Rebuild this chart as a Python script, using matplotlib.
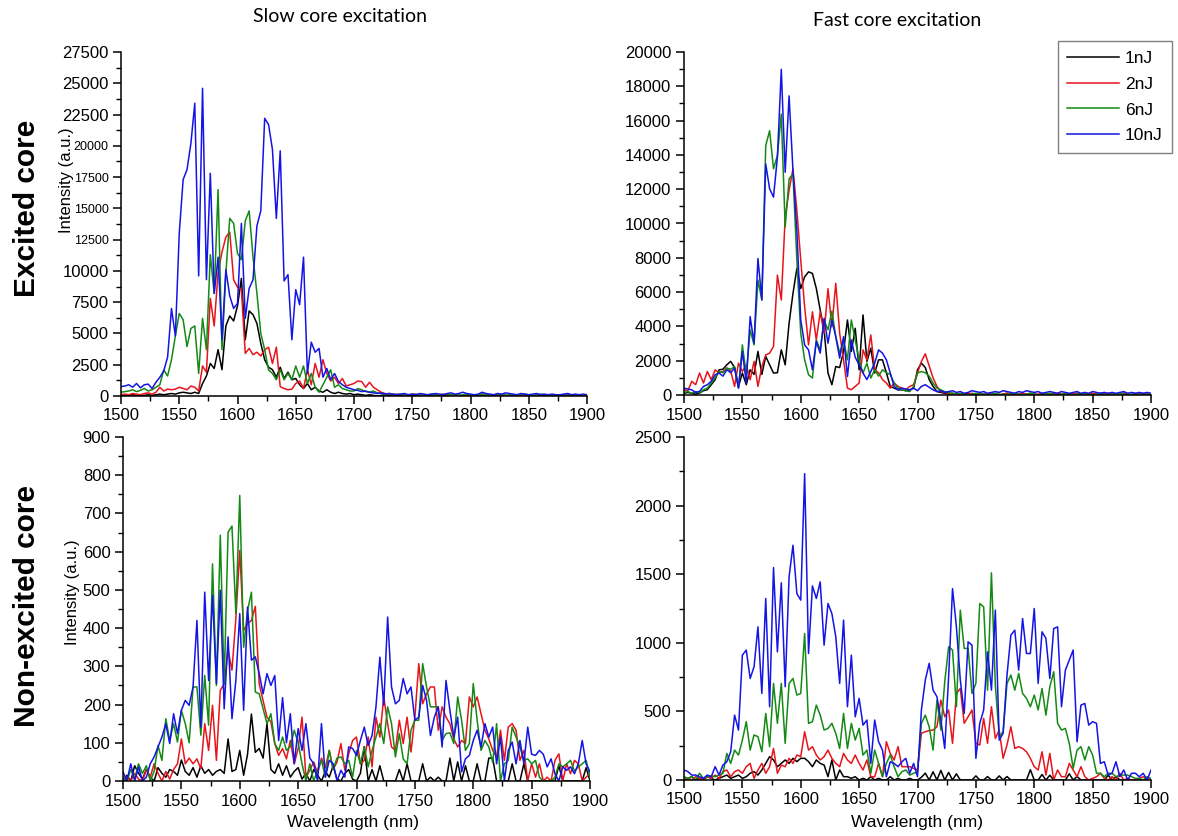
import numpy as np
import matplotlib
matplotlib.use("Agg")
import matplotlib.pyplot as plt
from matplotlib.ticker import MultipleLocator

plt.rcParams['font.family'] = ['Liberation Sans', 'DejaVu Sans']

# ---------------- spectra (intensity, a.u.), sampled evenly over 1500-1900 nm ----------------
# Slow core excitation, excited core
slow_exc_1nJ = [50, 0, 50, 100, 50, 0, 50, 100, 50, 100,
                150, 100, 150, 200, 150, 250, 300, 250, 200, 300,
                200, 1000, 1600, 2600, 2200, 3700, 2100, 5600, 6400, 6000,
                7200, 9400, 4500, 6800, 6500, 5800, 4200, 2900, 2300, 2100,
                1500, 2300, 1400, 1900, 1300, 1400, 900, 600, 1000, 500,
                700, 400, 300, 500, 300, 200, 300, 200, 150, 200,
                100, 150, 100, 50, 100, 50, 0, 50, 100, 50,
                0, 50, 50, 0, 100, 50, 0, 50, 0, 50,
                100, 50, 0, 50, 50, 0, 100, 50, 0, 50,
                0, 50, 100, 50, 0, 50, 50, 0, 100, 50,
                0, 50, 0, 50, 100, 50, 0, 50, 50, 0,
                50, 100, 50, 0, 50, 0, 50, 100, 50, 0, 50]
slow_exc_2nJ = [100, 150, 100, 200, 150, 100, 200, 250, 150, 300,
                700, 400, 550, 500, 550, 700, 600, 500, 800, 700,
                400, 2400, 1900, 7800, 5600, 9900, 11500, 12700, 13100, 9300,
                8700, 8500, 3400, 3800, 3300, 3500, 3200, 3700, 3900, 2600,
                3900, 750, 600, 500, 550, 1000, 1200, 600, 2100, 900,
                2600, 1500, 2900, 1800, 1200, 1500, 1000, 1400, 800, 900,
                1000, 1200, 1150, 700, 1100, 700, 500, 300, 200, 150,
                100, 150, 100, 50, 100, 150, 100, 50, 100, 50,
                100, 50, 100, 150, 100, 50, 100, 50, 0, 50,
                100, 50, 100, 150, 100, 50, 100, 50, 100, 50,
                0, 50, 100, 50, 100, 50, 0, 50, 100, 50,
                100, 50, 0, 50, 100, 50, 50, 100, 50, 0, 50]
slow_exc_6nJ = [300, 350, 400, 500, 350, 450, 600, 400, 500, 700,
                900, 2080, 1600, 2900, 4800, 6600, 6100, 3950, 5400, 5600,
                1800, 6200, 3700, 11300, 8200, 16500, 3700, 9800, 14200, 13800,
                11400, 10900, 14000, 14800, 11100, 8200, 5000, 3700, 2080, 1800,
                1300, 2100, 1300, 1800, 1300, 2400, 1500, 2400, 1000, 1800,
                700, 300, 900, 1500, 2100, 700, 900, 600, 500, 400,
                400, 600, 500, 350, 300, 400, 250, 200, 150, 200,
                150, 100, 150, 100, 50, 100, 150, 100, 50, 100,
                150, 100, 50, 100, 150, 100, 100, 50, 100, 150,
                100, 50, 100, 150, 100, 50, 100, 150, 100, 50,
                100, 100, 50, 100, 150, 100, 50, 100, 150, 100,
                50, 100, 100, 50, 100, 150, 100, 50, 100, 50, 100]
slow_exc_10nJ = [750, 800, 900, 700, 1000, 650, 900, 950, 600, 1100,
                 1500, 2000, 3100, 7000, 4800, 13000, 17300, 18100, 20200, 23400,
                 9600, 24600, 9300, 17800, 8200, 11100, 4500, 10100, 8000, 7000,
                 7400, 13800, 6200, 8600, 9300, 13600, 14800, 22200, 21700, 19700,
                 14200, 19600, 9200, 9700, 4500, 8500, 7300, 11100, 1800, 4300,
                 3500, 3800, 1500, 2200, 1300, 1800, 1150, 900, 700, 600,
                 500, 450, 350, 400, 300, 250, 200, 250, 150, 200,
                 150, 100, 150, 200, 100, 150, 100, 200, 150, 100,
                 150, 200, 150, 100, 200, 250, 150, 200, 300, 200,
                 150, 100, 150, 300, 200, 150, 100, 200, 150, 250,
                 200, 150, 100, 200, 150, 100, 150, 200, 100, 150,
                 100, 150, 100, 100, 150, 200, 100, 150, 100, 150, 100]

# Fast core excitation, excited core
fast_exc_1nJ = [100, 150, 100, 50, 115, 250, 310, 600, 890, 1470,
                1500, 1760, 1960, 1600, 500, 1280, 600, 1470, 1200, 2540,
                1200, 2250, 1760, 1280, 1300, 2630, 1760, 4180, 5920, 7380,
                6210, 6890, 7180, 7090, 6210, 4950, 3800, 1280, 600, 1660,
                1600, 2540, 4375, 2540, 3890, 1470, 4670, 1960, 2730, 1280,
                2050, 2050, 1300, 500, 400, 300, 300, 250, 300, 400,
                1470, 1860, 1600, 900, 500, 200, 150, 100, 50, 100,
                50, 0, 50, 100, 50, 0, 50, 50, 0, 100,
                50, 0, 50, 100, 50, 0, 50, 0, 50, 100,
                50, 0, 50, 50, 0, 100, 50, 0, 50, 0,
                50, 100, 50, 0, 50, 50, 0, 100, 50, 0,
                50, 0, 50, 100, 50, 0, 50, 50, 0, 50, 0]
fast_exc_2nJ = [300, 250, 800, 600, 1280, 700, 1370, 890, 1470, 1280,
                1370, 1570, 1400, 500, 1860, 1370, 1760, 890, 1960, 500,
                1660, 2340, 2440, 2830, 6990, 5540, 10380, 11930, 13180, 10770,
                7860, 5150, 2920, 4850, 3210, 4850, 3600, 6200, 3980, 6510,
                3600, 2050, 400, 310, 500, 700, 2630, 2050, 3500, 1470,
                1300, 900, 700, 400, 700, 500, 400, 300, 500, 600,
                1280, 1960, 2400, 1700, 1000, 500, 200, 150, 100, 50,
                100, 50, 0, 50, 100, 50, 0, 50, 50, 100,
                50, 0, 50, 100, 50, 0, 50, 100, 50, 0,
                50, 50, 100, 50, 0, 50, 100, 50, 0, 50,
                100, 50, 0, 50, 50, 100, 50, 0, 50, 100,
                50, 0, 50, 100, 50, 0, 50, 50, 100, 50, 0]
fast_exc_6nJ = [150, 200, 100, 200, 115, 300, 400, 700, 1000, 1370,
                1300, 1570, 1500, 1660, 400, 2920, 1180, 3800, 2920, 6700,
                5540, 14540, 15410, 13190, 13960, 16380, 9800, 12600, 12900, 7860,
                3600, 2050, 1180, 990, 3210, 2630, 4375, 3800, 4890, 3400,
                2440, 3210, 2050, 4375, 3200, 2050, 1280, 1860, 990, 1470,
                1100, 1470, 1300, 1200, 700, 400, 300, 250, 200, 500,
                1280, 1370, 1300, 1100, 700, 400, 300, 200, 150, 100,
                50, 100, 50, 0, 50, 100, 50, 50, 0, 50,
                100, 50, 0, 50, 50, 100, 50, 0, 50, 100,
                50, 0, 50, 50, 100, 50, 0, 50, 100, 50,
                0, 50, 50, 100, 50, 0, 50, 100, 50, 0,
                50, 50, 100, 50, 0, 50, 100, 50, 0, 50, 50]
fast_exc_10nJ = [400, 350, 300, 150, 210, 500, 600, 800, 1180, 1280,
                 1100, 1470, 1300, 1570, 400, 2540, 700, 4570, 3020, 7960,
                 5540, 13470, 12020, 11540, 13860, 18990, 12990, 17440, 13090, 9600,
                 4375, 2920, 2630, 1470, 3120, 2440, 4470, 3020, 4375, 3400,
                 2150, 3400, 1080, 3210, 2200, 1760, 1280, 900, 1370, 1860,
                 2630, 2440, 2050, 1280, 500, 310, 400, 350, 300, 400,
                 250, 500, 600, 450, 300, 200, 250, 150, 200, 250,
                 150, 200, 100, 150, 250, 200, 150, 200, 100, 150,
                 200, 150, 250, 200, 150, 100, 200, 150, 250, 200,
                 150, 200, 100, 150, 200, 150, 100, 200, 150, 100,
                 150, 200, 100, 150, 100, 200, 150, 100, 150, 100,
                 150, 100, 150, 200, 100, 150, 100, 150, 100, 150, 100]

# Slow core excitation, non-excited core
slow_non_1nJ = [0, 15, 0, 40, 20, 5, 30, 10, 0, 35,
                20, 10, 30, 25, 15, 55, 25, 15, 35, 10,
                40, 20, 30, 15, 25, 30, 20, 110, 25, 30,
                80, 15, 70, 175, 75, 85, 60, 150, 30, 20,
                45, 15, 40, 10, 25, 35, 5, 20, 0, 30,
                15, 0, 25, 10, 40, 5, 0, 20, 30, 5,
                0, 20, 90, 0, 30, 0, 40, 0, 0, 0,
                0, 30, 0, 45, 0, 0, 0, 45, 0, 10,
                0, 10, 0, 0, 60, 0, 50, 0, 40, 0,
                0, 45, 0, 0, 60, 60, 0, 0, 0, 0,
                45, 0, 0, 45, 0, 0, 0, 0, 0, 0,
                0, 0, 40, 0, 0, 0, 0, 0, 0, 35, 0]
slow_non_2nJ = [0, 10, 0, 20, 5, 0, 30, 10, 45, 20,
                0, 25, 5, 30, 45, 110, 45, 60, 45, 58,
                32, 150, 80, 198, 54, 237, 254, 342, 290, 425,
                603, 394, 412, 420, 457, 254, 210, 167, 155, 98,
                67, 85, 58, 106, 45, 85, 167, 10, 28, 50,
                20, 60, 35, 80, 30, 50,
                98, 28, 71, 106, 115, 45, 54, 115, 37, 167,
                115, 220, 150, 89, 80, 159, 98, 167, 76, 167,
                307, 202, 228, 246, 246, 133, 194, 167, 150, 110,
                89, 106, 98, 220, 194, 220, 176, 133, 110, 80,
                63, 133, 54, 141, 150, 133, 54, 80, 0, 45,
                10, 45, 0, 10, 0, 54, 71, 0, 45, 19,
                54, 45, 0, 10, 20]
slow_non_6nJ = [10, 0, 30, 5, 45, 20, 40, 0, 25, 93,
                54, 163, 106, 150, 102, 185, 150, 100, 246, 246,
                120, 276, 146, 568, 250, 643, 255, 651, 667, 438,
                747, 350, 446, 494, 233, 228, 189, 150, 176, 98,
                80, 115, 80, 90, 133, 100, 45, 0, 45, 0,
                28, 54, 10, 80, 30, 60,
                63, 45, 54, 10, 80, 45, 89, 37, 80, 115,
                150, 98, 194, 150, 63, 124, 58, 45, 133, 159,
                159, 307, 246, 194, 194, 194, 106, 124, 126, 98,
                220, 159, 80, 98, 255, 159, 80, 106, 89, 48,
                150, 0, 45, 54, 141, 115, 89, 54, 58, 45,
                54, 10, 0, 0, 0, 10, 45, 37, 45, 54,
                26, 37, 45, 54, 10]
slow_non_10nJ = [24, 0, 45, 0, 37, 0, 10, 45, 63, 89,
                 115, 150, 98, 176, 124, 185, 211, 198, 246, 420,
                 141, 494, 263, 486, 255, 499, 189, 377, 163, 263,
                 438, 185, 455, 316, 325, 281, 228, 281, 250, 276,
                 106, 218, 100, 176, 45, 137, 80, 150, 60, 45,
                 0, 150, 10, 54, 45, 0,
                 28, 10, 89, 85, 67, 106, 141, 93, 119, 194,
                 324, 198, 429, 246, 202, 211, 268, 228, 246, 159,
                 167, 250, 211, 119, 167, 194, 89, 263, 185, 115,
                 167, 24, 58, 67, 106, 133, 89, 150, 115, 141,
                 45, 115, 0, 80, 102, 45, 106, 45, 141, 70,
                 67, 80, 70, 37, 58, 19, 0, 37, 28, 37,
                 19, 45, 106, 45, 24]

# Fast core excitation, non-excited core
fast_non_1nJ = [0, 12, 24, 0, 12, 0, 24, 12, 0, 12,
                24, 36, 12, 24, 36, 12, 24, 49, 61, 36,
                73, 121, 170, 146, 97, 121, 146, 121, 158, 134,
                158, 158, 134, 97, 146, 121, 109, 24, 146, 0,
                73, 24, 24, 12, 24, 0, 12, 0, 24, 0,
                12, 0, 0, 24, 0, 12, 0, 0, 12, 0,
                0, 20, 50, 0, 60, 0, 70, 0, 55, 0,
                45, 0, 0, 0, 0, 30, 0, 0, 25, 0,
                0, 30, 0, 25, 0, 0, 0, 0, 0, 75,
                0, 0, 40, 0, 35, 0, 0, 0, 0, 45,
                0, 25, 0, 0, 0, 0, 0, 0, 0, 35,
                0, 25, 0, 0, 0, 0, 0, 0, 0, 0, 0]
fast_non_2nJ = [0, 12, 0, 24, 12, 0, 24, 12, 36, 12,
                61, 73, 24, 61, 73, 49, 97, 121, 12, 73,
                121, 49, 97, 230, 49, 109, 97, 158, 121, 182,
                170, 352, 218, 243, 182, 146, 170, 218, 158, 121,
                97, 194, 146, 121, 182, 121, 73, 146, 24, 24,
                121, 24, 279, 194, 146, 243, 97, 97, 97, 85,
                73, 340, 352, 360, 364, 388, 582, 461, 510, 267,
                631, 667, 413, 461, 510, 267, 255, 449, 267, 534,
                303, 364, 158, 255, 388, 230, 243, 230, 206, 158,
                97, 73, 206, 36, 194, 0, 73, 24, 24, 121,
                73, 24, 97, 24, 0, 12, 24, 49, 12, 0,
                24, 0, 49, 0, 12, 0, 0, 12, 24, 12, 0]
fast_non_6nJ = [24, 12, 24, 0, 49, 12, 24, 30, 24, 36,
                49, 194, 121, 218, 182, 291, 425, 218, 328, 316,
                206, 485, 243, 704, 413, 704, 267, 704, 740, 619,
                631, 1068, 413, 425, 546, 473, 364, 376, 413, 340,
                230, 485, 230, 413, 291, 376, 182, 218, 49, 218,
                121, 24, 121, 182, 97, 24, 61, 73, 36, 49,
                60, 413, 473, 388, 218, 582, 364, 716, 971, 947,
                534, 1238, 959, 959, 631, 704, 1286, 1262, 655, 1510,
                692, 316, 352, 704, 765, 655, 777, 631, 595, 534,
                619, 510, 667, 473, 680, 789, 413, 364, 376, 267,
                85, 218, 243, 146, 243, 182, 49, 49, 24, 49,
                49, 24, 36, 36, 36, 24, 12, 12, 0, 24, 12]
fast_non_10nJ = [73, 61, 36, 36, 24, 12, 36, 24, 97, 36,
                 109, 133, 206, 473, 364, 910, 947, 740, 825, 1116,
                 631, 1323, 534, 1548, 934, 1437, 680, 1480, 1711, 1359,
                 1311, 2233, 922, 1415, 1323, 1444, 983, 1286, 1213, 1044,
                 704, 1165, 534, 910, 461, 595, 400, 437, 121, 437,
                 279, 218, 24, 133, 121, 97, 133, 158, 49, 121,
                 24, 510, 728, 850, 655, 607, 437, 230, 752, 1395,
                 1116, 728, 485, 1007, 983, 158, 413, 510, 934, 655,
                 1238, 291, 340, 765, 1056, 1092, 801, 1177, 922, 922,
                 1250, 704, 1080, 1032, 740, 1104, 1116, 534, 801, 874,
                 947, 279, 546, 558, 400, 425, 413, 121, 133, 36,
                 49, 133, 24, 73, 0, 49, 49, 24, 49, 0, 73]

energy_labels = ["1nJ", "2nJ", "6nJ", "10nJ"]
line_colors = ["#000000", "#e8141c", "#148a14", "#1414e6"]
column_titles = ["Slow core excitation", "Fast core excitation"]
row_titles = ["Excited core", "Non-excited core"]
y_title = "Intensity (a.u.)"
x_title = "Wavelength (nm)"
x_range = (1500, 1900)

panels = [
    # (series, ymax, major y step)
    ([slow_exc_1nJ, slow_exc_2nJ, slow_exc_6nJ, slow_exc_10nJ], 27500, 2500),
    ([fast_exc_1nJ, fast_exc_2nJ, fast_exc_6nJ, fast_exc_10nJ], 20000, 2000),
    ([slow_non_1nJ, slow_non_2nJ, slow_non_6nJ, slow_non_10nJ], 900, 100),
    ([fast_non_1nJ, fast_non_2nJ, fast_non_6nJ, fast_non_10nJ], 2500, 500),
]

W, H = 1178, 836
fig = plt.figure(figsize=(W / 100, H / 100), dpi=100)
fig.patch.set_facecolor("white")

# axes boxes in pixels: left, top, right, bottom
boxes = [(121, 52, 587, 396), (684, 52, 1151, 395),
         (123, 437, 590, 781), (684, 437, 1151, 780)]

axes = []
for (series, ymax, ystep), (l, t, r, b) in zip(panels, boxes):
    ax = fig.add_axes([l / W, 1 - b / H, (r - l) / W, (b - t) / H])
    for y, c, lab in zip(series, line_colors, energy_labels):
        x = np.linspace(x_range[0], x_range[1], len(y))
        ax.plot(x, y, color=c, lw=1.1, label=lab)
    ax.set_xlim(*x_range)
    ax.set_ylim(0, ymax)
    ax.xaxis.set_major_locator(MultipleLocator(50))
    ax.xaxis.set_minor_locator(MultipleLocator(25))
    ax.yaxis.set_major_locator(MultipleLocator(ystep))
    ax.yaxis.set_minor_locator(MultipleLocator(ystep / 2))
    for side in ("top", "right"):
        ax.spines[side].set_visible(False)
    for side in ("left", "bottom"):
        ax.spines[side].set_linewidth(1.1)
    ax.tick_params(which="major", direction="out", length=6, width=1.1,
                   labelsize=12, pad=3)
    ax.tick_params(which="minor", direction="out", length=3.5, width=1.0)
    axes.append(ax)

# column titles
fig.text(340 / W, 1 - 17 / H, column_titles[0], ha="center", va="center",
         fontsize=14, family=["Lato", "DejaVu Sans"])
fig.text(897 / W, 1 - 20 / H, column_titles[1], ha="center", va="center",
         fontsize=14, family=["Lato", "DejaVu Sans"])

# row titles
for txt, yc in zip(row_titles, (208, 606)):
    fig.text(27 / W, 1 - yc / H, txt, rotation=90, ha="center", va="center",
             fontsize=21.5, fontweight="bold")

# y-axis titles on the left column
fig.text(66 / W, 1 - 180 / H, y_title, rotation=90,
         ha="center", va="center", fontsize=12)
fig.text(72 / W, 1 - 592 / H, y_title, rotation=90,
         ha="center", va="center", fontsize=12)

# x-axis titles on the bottom row
for xc in (353, 917):
    fig.text(xc / W, 1 - 822 / H, x_title, ha="center", va="center",
             fontsize=12.5)

leg = axes[1].legend(loc="upper right", bbox_to_anchor=(1172 / W, 1 - 41 / H),
                     bbox_transform=fig.transFigure, borderaxespad=0,
                     fontsize=12.5, handlelength=3.0, handletextpad=0.3,
                     labelspacing=0.62, borderpad=0.55, fancybox=False,
                     framealpha=1)
leg.get_frame().set_edgecolor("#808080")
leg.get_frame().set_linewidth(1.0)

# the tick numbers next to the y title of the top-left panel are set narrower
fig.canvas.draw()
ax0 = axes[0]
for tick, loc in zip(ax0.yaxis.get_major_ticks(), ax0.get_yticks()):
    if 12500 <= loc <= 20000:
        tick.label1.set_fontsize(9)

fig.savefig("out.png", dpi=100, facecolor="white")
